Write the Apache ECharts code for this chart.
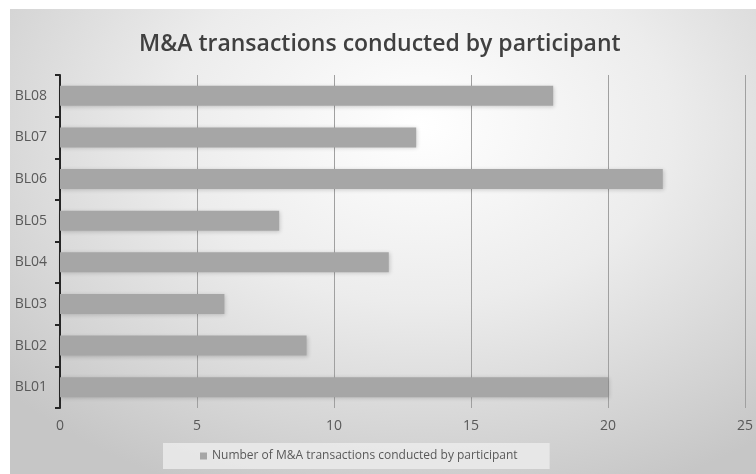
<!DOCTYPE html>
<html>
<head>
<meta charset="utf-8">
<script src="https://cdn.jsdelivr.net/npm/echarts@6/dist/echarts.min.js"></script>
<style>
  html, body { margin: 0; padding: 0; background: #ffffff; }
  #main {
    position: absolute; left: 10px; top: 9px; width: 746px; height: 465px;
    background: radial-gradient(ellipse 75% 85% at 55% 25%, #ffffff 0%, #ececec 45%, #d4d4d4 80%, #c6c6c6 100%);
  }
</style>
</head>
<body>
<div id="main"></div>
<script>
// categories from bottom to top
var categories = ['BL01', 'BL02', 'BL03', 'BL04', 'BL05', 'BL06', 'BL07', 'BL08'];
var values = [20, 9, 6, 12, 8, 22, 13, 18];
var seriesName = 'Number of M&A transactions conducted by participant';
var titleText = 'M&A transactions conducted by participant';

var chart = echarts.init(document.getElementById('main'), null, { renderer: 'canvas' });
chart.setOption({
    backgroundColor: 'transparent',
    textStyle: { fontFamily: 'Open Sans' },
    title: {
        text: titleText,
        left: 124,
        top: 19,
        textStyle: { color: '#404040', fontSize: 23, fontWeight: 600, fontFamily: 'Open Sans' }
    },
    legend: {
        bottom: 5,
        left: 153,
        padding: [7, 32, 7, 37],
        backgroundColor: 'rgba(235,235,235,0.85)',
        itemWidth: 7,
        itemHeight: 7,
        itemGap: 4,
        icon: 'rect',
        textStyle: { color: '#595959', fontSize: 12 },
        data: [seriesName]
    },
    grid: { left: 50, right: 7, top: 66, bottom: 66, containLabel: false },
    xAxis: {
        type: 'value',
        min: 0,
        max: 25,
        interval: 5,
        axisLine: { show: false },
        axisTick: { show: false },
        axisLabel: { color: '#595959', fontSize: 14, margin: 11 },
        splitLine: { lineStyle: { color: '#a0a0a0', width: 1 } }
    },
    yAxis: {
        type: 'category',
        data: categories,
        axisLine: { lineStyle: { color: '#262626', width: 2 } },
        axisTick: { show: true, length: 5, lineStyle: { color: '#262626', width: 2 } },
        axisLabel: { color: '#595959', fontSize: 14, margin: 13 }
    },
    series: [{
        name: seriesName,
        type: 'bar',
        data: values,
        barWidth: 20,
        itemStyle: {
            color: '#a6a6a6',
            shadowBlur: 4,
            shadowColor: 'rgba(0,0,0,0.18)',
            shadowOffsetX: 1,
            shadowOffsetY: 1
        }
    }]
});
</script>
</body>
</html>
